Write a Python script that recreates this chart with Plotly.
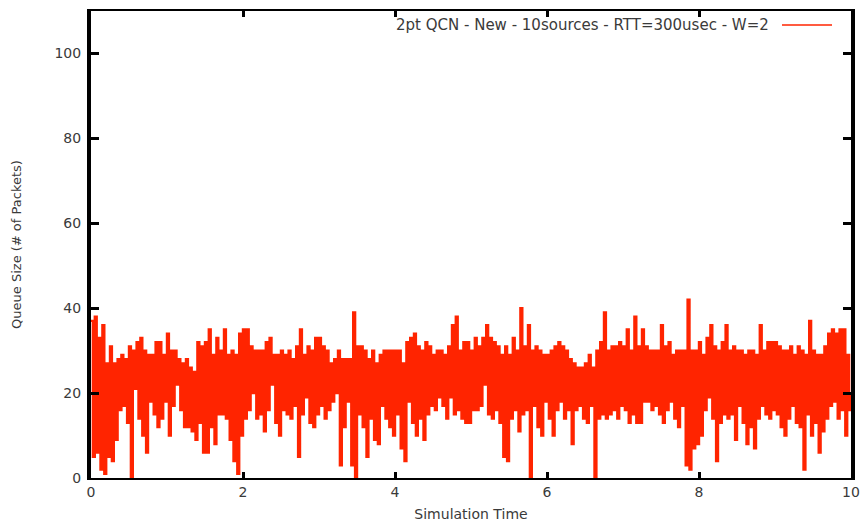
import plotly.graph_objects as go

# Peak and trough queue sizes per 0.05 s interval
peaks = [
    37, 38, 33, 36, 27, 31, 27, 28, 29, 28,
    31, 30, 32, 33, 30, 29, 29, 32, 32, 29,
    34, 30, 30, 28, 27, 28, 26, 25, 32, 31,
    32, 35, 29, 33, 30, 35, 29, 30, 29, 34,
    35, 35, 31, 30, 30, 30, 32, 33, 29, 29,
    30, 29, 30, 28, 31, 35, 29, 31, 30, 33,
    33, 31, 30, 27, 28, 30, 28, 28, 28, 39,
    31, 31, 30, 28, 30, 27, 29, 30, 30, 30,
    30, 30, 27, 32, 33, 34, 31, 30, 32, 31,
    29, 30, 30, 29, 31, 36, 38, 30, 32, 32,
    30, 33, 31, 33, 36, 33, 32, 31, 29, 31,
    29, 33, 30, 40, 31, 36, 30, 31, 30, 29,
    29, 30, 31, 32, 31, 30, 28, 27, 26, 26,
    27, 29, 26, 30, 32, 39, 30, 31, 31, 32,
    31, 35, 30, 38, 31, 35, 31, 30, 30, 30,
    36, 31, 32, 29, 30, 30, 30, 42, 30, 30,
    32, 29, 33, 36, 31, 30, 32, 36, 30, 31,
    30, 30, 29, 30, 30, 29, 36, 30, 32, 32,
    32, 31, 30, 30, 31, 29, 31, 30, 29, 37,
    30, 29, 29, 31, 34, 35, 34, 35, 35, 29,
]
troughs = [
    5, 6, 2, 1, 5, 4, 9, 16, 17, 13,
    0, 21, 14, 10, 6, 18, 15, 12, 14, 18,
    10, 17, 22, 16, 12, 12, 11, 9, 13, 6,
    6, 12, 8, 15, 15, 14, 9, 4, 1, 10,
    14, 16, 20, 14, 15, 11, 16, 22, 13, 10,
    16, 15, 14, 17, 5, 15, 19, 13, 12, 15,
    17, 14, 16, 18, 20, 3, 12, 18, 3, 0,
    15, 12, 5, 14, 9, 8, 17, 14, 12, 10,
    15, 7, 4, 18, 13, 10, 14, 9, 15, 17,
    16, 19, 17, 14, 19, 15, 16, 14, 13, 13,
    16, 16, 17, 22, 15, 14, 16, 13, 5, 4,
    14, 16, 11, 15, 16, 0, 17, 12, 10, 18,
    14, 10, 16, 18, 14, 16, 8, 16, 17, 14,
    13, 17, 0, 14, 15, 14, 15, 16, 14, 17,
    16, 13, 15, 13, 13, 18, 18, 16, 17, 15,
    13, 16, 18, 14, 12, 17, 3, 2, 7, 8,
    10, 16, 19, 14, 4, 13, 15, 14, 15, 9,
    17, 13, 8, 12, 7, 14, 17, 15, 14, 16,
    15, 12, 10, 14, 17, 13, 12, 2, 15, 10,
    13, 6, 11, 14, 17, 18, 14, 16, 10, 16,
]
final_value = 20
sample_step = 0.025
series_name = "2pt QCN - New - 10sources - RTT=300usec - W=2"
x_ticks = [0, 2, 4, 6, 8, 10]
y_ticks = [0, 20, 40, 60, 80, 100]

queue = []
for p, t in zip(peaks, troughs):
    queue.extend([p, t])
queue.append(final_value)
times = [i * sample_step for i in range(len(queue))]

RED = "rgb(255,36,0)"
FONT = "DejaVu Sans, Verdana, sans-serif"
TXT = "#3a3a3a"

fig = go.Figure()
fig.add_trace(go.Scatter(
    x=times, y=queue, mode="lines",
    line=dict(color=RED, width=2.4, shape="hv", simplify=False),
    name=series_name, showlegend=False, hoverinfo="skip"))

fig.update_layout(
    width=863, height=523,
    margin=dict(l=91, r=12, t=11, b=45),
    paper_bgcolor="white", plot_bgcolor="white",
    font=dict(family=FONT, size=14, color=TXT),
    showlegend=False,
)
fig.update_xaxes(
    range=[0, 10], tickvals=x_ticks, ticktext=[str(v) for v in x_ticks],
    automargin=False,
    showgrid=False, zeroline=False, showline=True, linecolor="black", linewidth=2,
    mirror="ticks", ticks="inside", ticklen=6, tickwidth=2.5, tickcolor="black",
    tickfont=dict(size=14, color=TXT),
    title=dict(text="Simulation Time", standoff=10, font=dict(size=14, color=TXT)),
)
fig.update_yaxes(
    range=[0, 110], tickvals=y_ticks, ticktext=[str(v) for v in y_ticks],
    automargin=False, ticklabelstandoff=3,
    showgrid=False, zeroline=False, showline=True, linecolor="black", linewidth=4,
    mirror="ticks", ticks="inside", ticklen=8, tickwidth=2.5, tickcolor="black",
    tickfont=dict(size=14, color=TXT),
    title=dict(text="Queue Size (# of Packets)", standoff=31, font=dict(size=13, color=TXT)),
)

# gnuplot-style key: text then line sample, top right
fig.add_annotation(
    xref="paper", yref="paper", x=(771 - 91) / 760, y=(478 - 25) / 467,
    xanchor="right", yanchor="middle", text=series_name, showarrow=False,
    font=dict(family=FONT, size=15, color=TXT))
fig.add_shape(
    type="line", xref="paper", yref="paper",
    x0=(782 - 91) / 760, x1=(832 - 91) / 760,
    y0=(478 - 25) / 467, y1=(478 - 25) / 467,
    line=dict(color=RED, width=1.5))

fig.write_html("out.html")
